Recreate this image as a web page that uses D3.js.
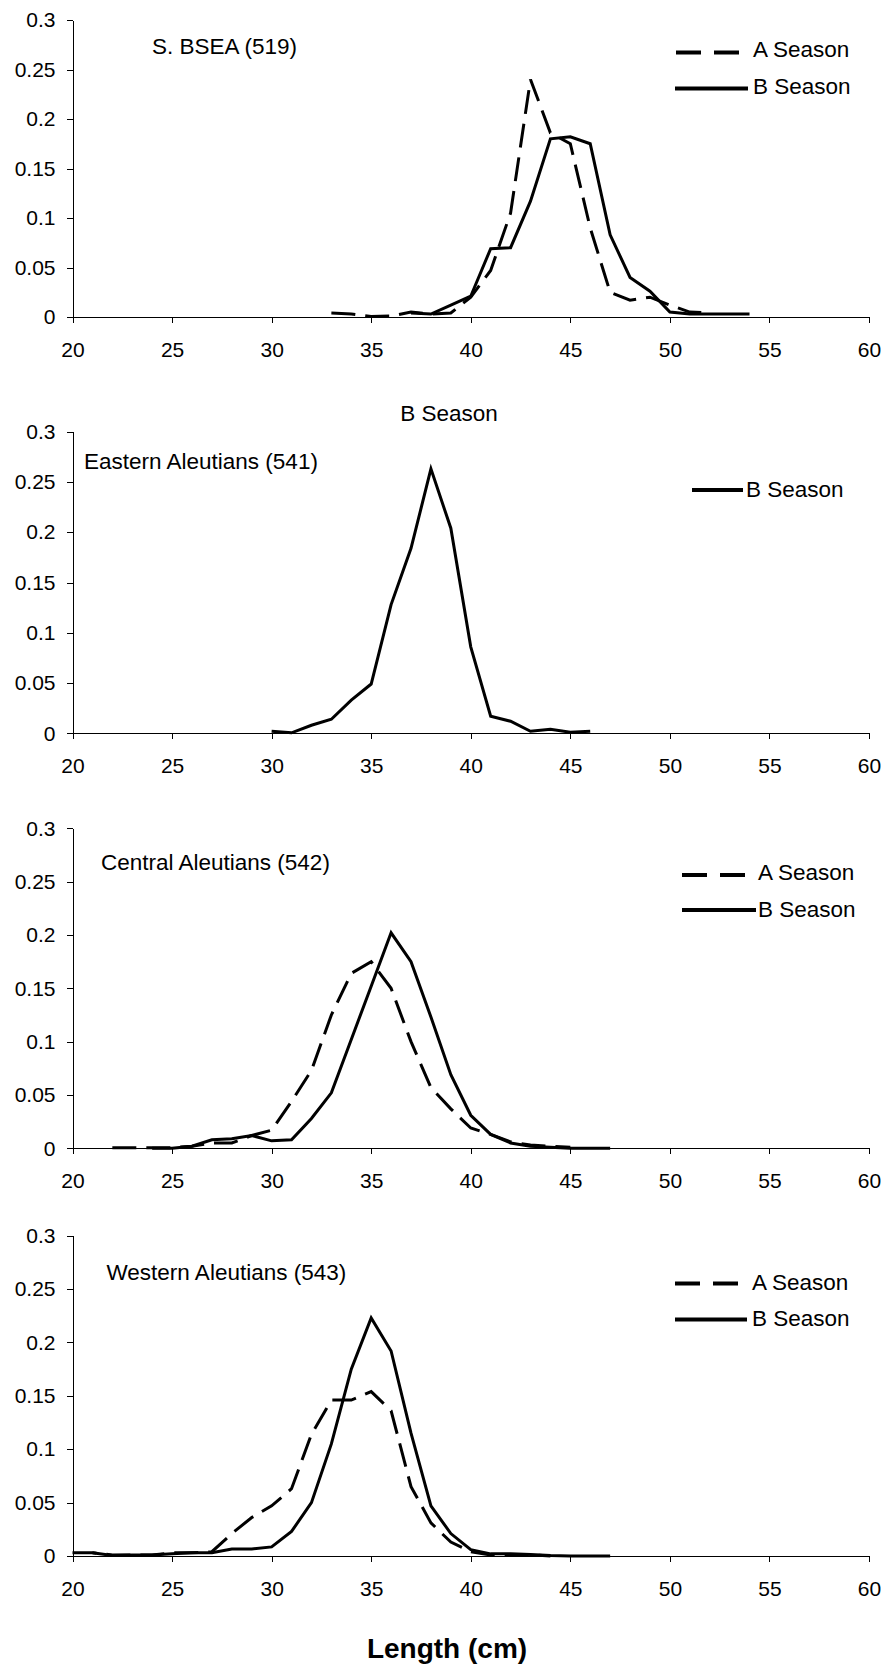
<!DOCTYPE html>
<html lang="en">
<head>
<meta charset="UTF-8">
<title>Length frequency by area and season</title>
<script src="https://d3js.org/d3.v7.min.js"></script>
<style>
    body { margin: 0; background: #fff; }
    svg text { font-family: "Liberation Sans", Arial, sans-serif; fill: #000; }
    .axis path, .axis line { stroke: #000; stroke-width: 1; shape-rendering: crispEdges; }
    .axis text { font-size: 21px; }
    .series { fill: none; stroke: #000; stroke-width: 3; stroke-linejoin: miter; }
    .lbl { font-size: 22.5px; }
</style>
</head>
<body>
<svg width="886" height="1667"></svg>
<script>
// tick values / labels
const xTicks = [20, 25, 30, 35, 40, 45, 50, 55, 60];
const yTicks = [0, 0.05, 0.1, 0.15, 0.2, 0.25, 0.3];
const yTickLabels = ["0", "0.05", "0.1", "0.15", "0.2", "0.25", "0.3"];

// S. BSEA (519)
const bseaLenA = [33, 34, 35, 36, 37, 38, 39, 40, 41, 42, 43, 44, 45, 46, 47, 48, 49, 50, 51, 52];
const bseaA    = [0.004, 0.003, 0.0005, 0.001, 0.005, 0.003, 0.004, 0.02, 0.047, 0.105, 0.24, 0.186, 0.175, 0.09, 0.025, 0.017, 0.02, 0.012, 0.005, 0.004];
const bseaLenB = [37, 38, 39, 40, 41, 42, 43, 44, 45, 46, 47, 48, 49, 50, 51, 52, 53, 54];
const bseaB    = [0.004, 0.003, 0.012, 0.021, 0.069, 0.07, 0.117, 0.18, 0.182, 0.175, 0.083, 0.04, 0.026, 0.005, 0.003, 0.003, 0.003, 0.003];

// Eastern Aleutians (541)
const eaiLenB = [30, 31, 32, 33, 34, 35, 36, 37, 38, 39, 40, 41, 42, 43, 44, 45, 46];
const eaiB    = [0.002, 0.0005, 0.008, 0.014, 0.033, 0.049, 0.128, 0.184, 0.263, 0.204, 0.086, 0.017, 0.012, 0.002, 0.004, 0.001, 0.002];

// Central Aleutians (542)
const caiLenA = [22, 23, 24, 25, 26, 27, 28, 29, 30, 31, 32, 33, 34, 35, 36, 37, 38, 39, 40, 41, 42, 43, 44, 45];
const caiA    = [0.0005, 0.0005, 0.0005, 0.0005, 0.002, 0.005, 0.005, 0.012, 0.017, 0.044, 0.073, 0.125, 0.164, 0.175, 0.15, 0.10, 0.057, 0.037, 0.019, 0.013, 0.006, 0.003, 0.002, 0.001];
const caiLenB = [24, 25, 26, 27, 28, 29, 30, 31, 32, 33, 34, 35, 36, 37, 38, 39, 40, 41, 42, 43, 44, 45, 46, 47];
const caiB    = [0, 0, 0.002, 0.008, 0.009, 0.012, 0.007, 0.008, 0.028, 0.052, 0.102, 0.152, 0.202, 0.175, 0.123, 0.069, 0.031, 0.013, 0.005, 0.002, 0.001, 0, 0, 0];

// Western Aleutians (543)
const waiLenA = [20, 21, 22, 23, 24, 25, 26, 27, 28, 29, 30, 31, 32, 33, 34, 35, 36, 37, 38, 39, 40, 41, 42, 43, 44];
const waiA    = [0.003, 0.003, 0.001, 0.001, 0.001, 0.003, 0.003, 0.004, 0.021, 0.036, 0.047, 0.063, 0.114, 0.146, 0.146, 0.154, 0.136, 0.065, 0.031, 0.013, 0.004, 0.001, 0.001, 0.001, 0];
const waiLenB = [21, 22, 23, 24, 25, 26, 27, 28, 29, 30, 31, 32, 33, 34, 35, 36, 37, 38, 39, 40, 41, 42, 43, 44, 45, 46, 47];
const waiB    = [0.003, 0.0005, 0.001, 0.001, 0.002, 0.003, 0.003, 0.0065, 0.0065, 0.0085, 0.023, 0.05, 0.105, 0.175, 0.223, 0.192, 0.115, 0.047, 0.021, 0.006, 0.002, 0.002, 0.0015, 0.0005, 0, 0, 0];

const svg = d3.select("svg");
const left = 72.5, right = 869;

const x = d3.scaleLinear().domain([20, 60]).range([left, right]);

const panels = [
    { label: "S. BSEA (519)", labelX: 152, labelY: 54, top: 20, bottom: 317,
      series: [{ len: bseaLenA, val: bseaA, dashed: true }, { len: bseaLenB, val: bseaB }],
      legend: [
          { name: "A Season", dashed: true, x1: 676, x2: 739, y: 52.5, tx: 753, ty: 57 },
          { name: "B Season", x1: 675, x2: 748, y: 88.5, tx: 753, ty: 94 }
      ] },
    { label: "Eastern Aleutians (541)", labelX: 84, labelY: 469, top: 431.7, bottom: 733.3,
      title: "B Season", titleY: 421,
      series: [{ len: eaiLenB, val: eaiB }],
      legend: [
          { name: "B Season", x1: 692, x2: 743, y: 490, tx: 746, ty: 497 }
      ] },
    { label: "Central Aleutians (542)", labelX: 101, labelY: 870, top: 828.3, bottom: 1148.3,
      series: [{ len: caiLenA, val: caiA, dashed: true }, { len: caiLenB, val: caiB }],
      legend: [
          { name: "A Season", dashed: true, x1: 682, x2: 745, y: 875, tx: 758, ty: 880 },
          { name: "B Season", x1: 682, x2: 756, y: 910, tx: 758, ty: 917 }
      ] },
    { label: "Western Aleutians (543)", labelX: 106.5, labelY: 1280, top: 1235.7, bottom: 1556,
      series: [{ len: waiLenA, val: waiA, dashed: true }, { len: waiLenB, val: waiB }],
      legend: [
          { name: "A Season", dashed: true, x1: 675, x2: 738, y: 1283.5, tx: 752, ty: 1290 },
          { name: "B Season", x1: 675, x2: 747, y: 1319.5, tx: 752, ty: 1326 }
      ] }
];

panels.forEach(p => {
    const y = d3.scaleLinear().domain([0, 0.3]).range([p.bottom, p.top]);
    const g = svg.append("g");

    g.append("g")
        .attr("class", "axis")
        .attr("transform", `translate(0,${p.bottom})`)
        .call(d3.axisBottom(x).tickValues(xTicks).tickSize(6).tickSizeOuter(0).tickPadding(19).tickFormat(d3.format("d")));

    g.append("g")
        .attr("class", "axis")
        .attr("transform", `translate(${left},0)`)
        .call(d3.axisLeft(y).tickValues(yTicks).tickSize(6).tickSizeOuter(0).tickPadding(11)
            .tickFormat((d, i) => yTickLabels[i]));

    const line = d3.line().x(d => x(d[0])).y(d => y(d[1]));

    p.series.forEach(s => {
        g.append("path")
            .attr("class", "series")
            .attr("d", line(d3.zip(s.len, s.val)))
            .attr("stroke-dasharray", s.dashed ? "24,10" : null);
    });

    g.append("text")
        .attr("class", "lbl")
        .attr("x", p.labelX)
        .attr("y", p.labelY)
        .text(p.label);

    if (p.title) {
        g.append("text")
            .attr("class", "lbl")
            .attr("x", 449)
            .attr("y", p.titleY)
            .attr("text-anchor", "middle")
            .text(p.title);
    }

    p.legend.forEach(l => {
        g.append("line")
            .attr("x1", l.x1).attr("x2", l.x2)
            .attr("y1", l.y).attr("y2", l.y)
            .attr("stroke", "#000")
            .attr("stroke-width", 4)
            .attr("stroke-dasharray", l.dashed ? "25,13" : null);
        g.append("text")
            .attr("class", "lbl")
            .attr("x", l.tx)
            .attr("y", l.ty)
            .text(l.name);
    });
});

svg.append("text")
    .attr("x", 447)
    .attr("y", 1658)
    .attr("text-anchor", "middle")
    .style("font-size", "28px")
    .style("font-weight", "bold")
    .text("Length (cm)");
</script>
</body>
</html>
